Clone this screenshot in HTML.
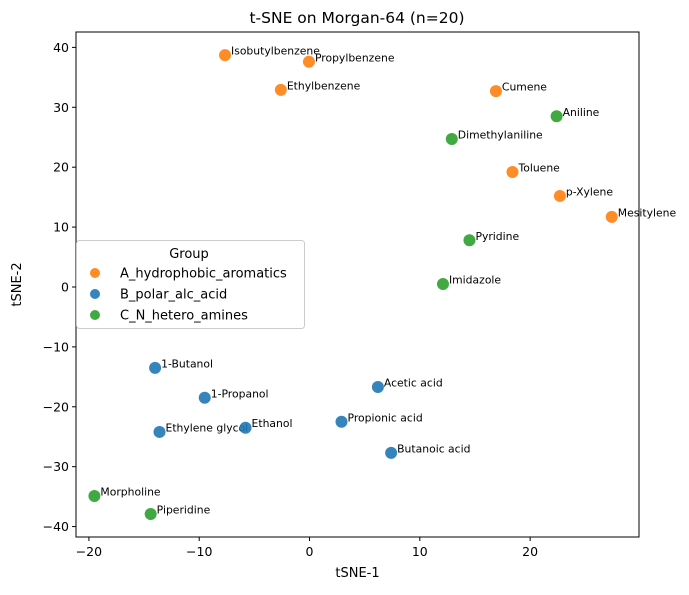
<!DOCTYPE html>
<html><head><meta charset="utf-8"><style>
body{margin:0;background:#fff;font-family:"Liberation Sans","DejaVu Sans",sans-serif;}
svg text{font-family:"DejaVu Sans","Liberation Sans",sans-serif;}
</style></head><body>
<svg id="chart" width="689" height="590" xmlns="http://www.w3.org/2000/svg"></svg>
<script>
const names=["Isobutylbenzene","Propylbenzene","Ethylbenzene","Cumene","Aniline","Dimethylaniline","Toluene","p-Xylene","Mesitylene","Pyridine","Imidazole","1-Butanol","1-Propanol","Ethylene glycol","Ethanol","Acetic acid","Propionic acid","Butanoic acid","Morpholine","Piperidine"];
const xs=[-7.66,-0.05,-2.6,16.9,22.4,12.9,18.4,22.7,27.4,14.5,12.1,-14.0,-9.5,-13.6,-5.8,6.2,2.9,7.4,-19.5,-14.4];
const ys=[38.7,37.6,32.9,32.7,28.5,24.7,19.2,15.2,11.7,7.8,0.5,-13.5,-18.5,-24.2,-23.5,-16.7,-22.5,-27.7,-34.9,-37.9];
const groups=["A","A","A","A","C","C","A","A","A","C","C","B","B","B","B","B","B","B","C","C"];
const xTicks=[-20,-10,0,10,20];
const yTicks=[-40,-30,-20,-10,0,10,20,30,40];
const groupLabels=["A_hydrophobic_aromatics","B_polar_alc_acid","C_N_hetero_amines"];
const groupKeys=["A","B","C"];
const colors={A:"#ff7f0e",B:"#1f77b4",C:"#2ca02c"};
const L=76,R=639,T=32,B=537,xmin=-21.17,xmax=29.87,ymin=-41.74,ymax=42.57;
const sx=v=>L+(v-xmin)/(xmax-xmin)*(R-L);
const sy=v=>B-(v-ymin)/(ymax-ymin)*(B-T);
const svg=document.getElementById('chart');
const NS="http://www.w3.org/2000/svg";
function mk(tag,attrs,text){const e=document.createElementNS(NS,tag);for(const k in attrs)e.setAttribute(k,attrs[k]);if(text!==undefined)e.textContent=text;svg.appendChild(e);return e;}
let e;
e=mk('text',{x:357,y:23,'text-anchor':'middle','font-size':15.5,fill:'#000'},'t-SNE on Morgan-64 (n=20)');


xTicks.forEach(t=>{const x=sx(t);
e=mk('line',{x1:x,x2:x,y1:B,y2:B+4,stroke:'#000'});


e=mk('text',{x:x,y:B+19,'text-anchor':'middle','font-size':12.5},String(t).replace('-','\u2212'));

});
yTicks.forEach(t=>{const y=sy(t);
e=mk('line',{x1:L-4,x2:L,y1:y,y2:y,stroke:'#000'});


e=mk('text',{x:L-7,y:y+4.5,'text-anchor':'end','font-size':12.5},String(t).replace('-','\u2212'));

});
e=mk('text',{x:(L+R)/2,y:577,'text-anchor':'middle','font-size':13},'tSNE-1');


e=mk('text',{x:21,y:(T+B)/2,'text-anchor':'middle','font-size':13,transform:`rotate(-90 21 ${(T+B)/2})`},'tSNE-2');


names.forEach((n,i)=>{const x=sx(xs[i]),y=sy(ys[i]);
e=mk('circle',{cx:x,cy:y,r:6,fill:colors[groups[i]],'fill-opacity':0.9});


e=mk('text',{x:x+6,y:y-0.5,'font-size':10.8},n);

});
e=mk('rect',{x:L,y:T,width:R-L,height:B-T,fill:'none',stroke:'#000','stroke-width':1});


e=mk('rect',{x:76.5,y:240.5,width:228,height:88,rx:3,fill:'#fff','fill-opacity':0.8,stroke:'#ccc'});


e=mk('text',{x:189,y:258,'text-anchor':'middle','font-size':13},'Group');


groupKeys.forEach((g,i)=>{const y=273+i*21;
e=mk('circle',{cx:95,cy:y,r:5,fill:colors[g],'fill-opacity':0.9});


e=mk('text',{x:120,y:y+4.5,'font-size':13},groupLabels[i]);

});
</script>
</body></html>
